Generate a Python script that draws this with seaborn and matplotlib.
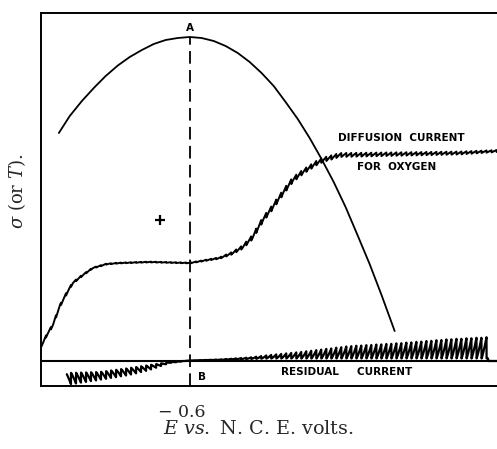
import numpy as np
import pandas as pd
import matplotlib
matplotlib.use("Agg")
import matplotlib.pyplot as plt
import matplotlib.transforms as mtransforms
import seaborn as sns

# ---------------- data (E in volts vs. N.C.E., ordinate in arbitrary units) -------------
# Electrocapillary curve (sigma or T)
ecap_E = [-0.072, -0.116, -0.165, -0.213, -0.261, -0.310, -0.358, -0.407, -0.455,
          -0.503, -0.552, -0.600, -0.648, -0.697, -0.745, -0.794, -0.842, -0.890,
          -0.939, -0.987, -1.036, -1.084, -1.132, -1.181, -1.229, -1.277, -1.326,
          -1.374, -1.427]
ecap_sigma = [228, 245, 260, 273, 285, 295.5, 304, 311, 317,
              321, 323, 324, 323, 320, 315, 308, 299, 288,
              275, 259, 242, 223, 202, 179, 154, 126, 97,
              66, 30]

# Diffusion current for oxygen: mean trace and drop-oscillation amplitude (peak to peak)
diff_E = [0.0, -0.023, -0.048, -0.064, -0.076, -0.104, -0.128, -0.169, -0.209, -0.265,
          -0.318, -0.439, -0.600, -0.721, -0.773, -0.814, -0.854, -0.894, -0.935, -0.975,
          -1.015, -1.056, -1.112, -1.136, -1.205, -1.447, -1.689, -1.84]
diff_I = [14, 26, 36, 47, 55, 68, 78, 86, 93, 97,
          98, 99, 98, 103, 108, 114, 124, 141, 154, 168,
          181, 189, 198, 201, 206, 207, 208, 210]
diff_amp = [1, 2.5, 2.5, 2.5, 2.5, 2.5, 2, 1.5, 1, 1,
            0.8, 0.8, 0.8, 1.5, 2.5, 3.5, 4.5, 5, 5, 5,
            5, 4.5, 4.5, 4.5, 4, 3.5, 3, 2]

# Residual current: envelope the drops start from, and signed drop excursion
res_E = [-0.104, -0.237, -0.358, -0.439, -0.519, -0.600, -0.721, -0.842, -0.923,
         -1.044, -1.245, -1.447, -1.648, -1.798, -1.806, -1.84]
res_base = [-12, -11, -7, -4, -1, 0.5, 1, 2, 2.5, 2.5, 2.5, 2.5, 2.5, 2.5, 0, 0]
res_spike = [-12, -8, -7, -5, -1, 0, 0.5, 1.5, 3.5, 6.5, 12.5, 15.5, 19.5, 21.5, 0, 0]

drop_period = 0.0202      # volts per mercury drop
tick_values = [-0.6]
tick_labels = ["\u2212 0.6"]
plus_point = (-0.479, 141)

# ---------------- style ----------------
sns.set_theme(style="white")
plt.rcParams["font.family"] = ["DejaVu Serif"]
plt.rcParams["mathtext.fontset"] = "dejavuserif"
plt.rcParams["axes.edgecolor"] = "black"
plt.rcParams["axes.linewidth"] = 1.4

fig = plt.figure(figsize=(4.97, 4.49), dpi=100)
ax = fig.add_axes([41 / 497, 63 / 449, 456 / 497, 373 / 449])
ax.set_xlim(0.0, -1.84)
ax.set_ylim(-25, 348)


def fine(E, vals, grid):
    E = np.asarray(E, float)
    return np.interp(-grid, -E, np.asarray(vals, float))


# electrocapillary curve
ecap_df = pd.DataFrame({"E": ecap_E, "sigma": ecap_sigma})
sns.lineplot(data=ecap_df, x="E", y="sigma", ax=ax, color="black", lw=1.3,
             estimator=None, sort=False)

# diffusion current (drop oscillations drawn as sawtooth around mean)
g = np.arange(0.0, 1.84, 0.0004) * -1
phase = np.mod(-g / drop_period, 1.0)
d_mean = fine(diff_E, diff_I, g)
d_amp = fine(diff_E, diff_amp, g)
diff_df = pd.DataFrame({"E": g, "I": d_mean + d_amp * (phase - 0.5)})
sns.lineplot(data=diff_df, x="E", y="I", ax=ax, color="black", lw=1.4,
             estimator=None, sort=False)

# residual current
gr = g[(g <= res_E[0]) & (g >= res_E[-1])]
ph_r = np.mod(-gr / drop_period, 1.0)
r_base = fine(res_E, res_base, gr)
r_sp = fine(res_E, res_spike, gr)
res_df = pd.DataFrame({"E": gr, "I": r_base + r_sp * ph_r ** 1.2})
sns.lineplot(data=res_df, x="E", y="I", ax=ax, color="black", lw=1.6,
             estimator=None, sort=False)

# zero line of residual current
ax.axhline(0, color="black", lw=1.5)

# dashed line through electrocapillary maximum
i_max = int(np.argmax(ecap_sigma))
E_max = ecap_E[i_max]
ylo, yhi = ax.get_ylim()
ax.axvline(E_max, ymin=0, ymax=(ecap_sigma[i_max] - ylo) / (yhi - ylo),
           color="black", lw=1.3, dashes=(7, 3.5))

# plus sign
ax.plot([plus_point[0]], [plus_point[1]], marker="+", ms=7, mew=1.6, color="black")

# annotations
lab = dict(family="DejaVu Sans", fontweight="bold", fontsize=7.5, color="black")
ax.text(E_max, 333, "A", ha="center", va="center", **lab)
ax.text(-0.648, -16, "B", ha="center", va="center", **lab)
ax.text(-1.455, 223, "DIFFUSION  CURRENT", ha="center", va="center", **lab)
ax.text(-1.435, 194, "FOR  OXYGEN", ha="center", va="center", **lab)
ax.text(-1.233, -11, "RESIDUAL     CURRENT", ha="center", va="center", **lab)

# axes decorations
ax.spines["right"].set_visible(False)
for s in ["left", "top", "bottom"]:
    ax.spines[s].set_color("black")
    ax.spines[s].set_linewidth(1.4)
ax.set_xticks(tick_values)
ax.set_xticklabels(tick_labels, fontsize=12.5)
ax.tick_params(axis="x", length=0, pad=13)
ax.set_yticks([])
off = mtransforms.ScaledTranslation(-8 / 100, 0, fig.dpi_scale_trans)
for t in ax.get_xticklabels():
    t.set_transform(t.get_transform() + off)

ax.set_xlabel(r"$E\ vs.$ N. C. E. volts.", fontsize=13.8)
ax.xaxis.set_label_coords(0.476, -0.092)
ax.set_ylabel(r"$\sigma$ (or $T$).", fontsize=13)
ax.yaxis.set_label_coords(-0.028, 0.523)

fig.savefig("out.png", dpi=100)
